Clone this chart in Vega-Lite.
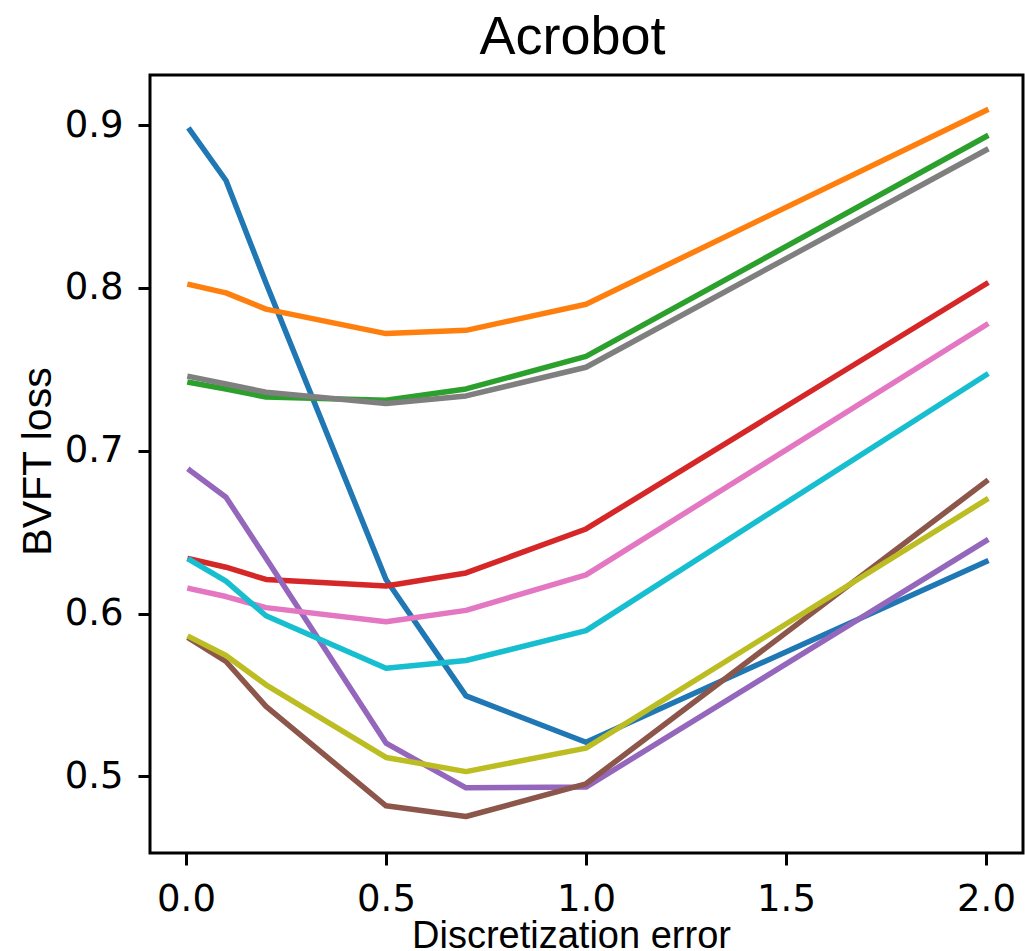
{
  "$schema": "https://vega.github.io/schema/vega-lite/v6.json",
  "width": 873,
  "height": 778,
  "autosize": "none",
  "padding": {"left": 150, "top": 75, "right": 2, "bottom": 98},
  "background": "white",
  "title": {
    "text": "Acrobot",
    "font": "Liberation Sans",
    "fontSize": 54,
    "fontWeight": "normal",
    "color": "black",
    "baseline": "alphabetic",
    "offset": 20,
    "dx": -14,
    "dy": 53
  },
  "config": {
    "view": {"stroke": "black", "strokeWidth": 3},
    "axis": {
      "domain": false,
      "grid": false,
      "tickColor": "black",
      "tickWidth": 3,
      "tickSize": 12,
      "labelFont": "DejaVu Sans",
      "labelFontSize": 37,
      "labelColor": "black",
      "titleFont": "Liberation Sans",
      "titleFontWeight": "normal",
      "titleColor": "black"
    }
  },
  "data": {
    "values": [
      {"s": "C0", "x": 0.01, "y": 0.897}, {"s": "C0", "x": 0.1, "y": 0.866}, {"s": "C0", "x": 0.2, "y": 0.803}, {"s": "C0", "x": 0.5, "y": 0.621}, {"s": "C0", "x": 0.7, "y": 0.5495}, {"s": "C0", "x": 1.0, "y": 0.521}, {"s": "C0", "x": 2.0, "y": 0.632},
      {"s": "C1", "x": 0.01, "y": 0.802}, {"s": "C1", "x": 0.1, "y": 0.797}, {"s": "C1", "x": 0.2, "y": 0.787}, {"s": "C1", "x": 0.5, "y": 0.772}, {"s": "C1", "x": 0.7, "y": 0.774}, {"s": "C1", "x": 1.0, "y": 0.790}, {"s": "C1", "x": 2.0, "y": 0.909},
      {"s": "C2", "x": 0.01, "y": 0.742}, {"s": "C2", "x": 0.1, "y": 0.738}, {"s": "C2", "x": 0.2, "y": 0.733}, {"s": "C2", "x": 0.5, "y": 0.731}, {"s": "C2", "x": 0.7, "y": 0.738}, {"s": "C2", "x": 1.0, "y": 0.758}, {"s": "C2", "x": 2.0, "y": 0.893},
      {"s": "C3", "x": 0.01, "y": 0.6336}, {"s": "C3", "x": 0.1, "y": 0.6285}, {"s": "C3", "x": 0.2, "y": 0.621}, {"s": "C3", "x": 0.5, "y": 0.617}, {"s": "C3", "x": 0.7, "y": 0.625}, {"s": "C3", "x": 1.0, "y": 0.652}, {"s": "C3", "x": 2.0, "y": 0.8025},
      {"s": "C4", "x": 0.01, "y": 0.688}, {"s": "C4", "x": 0.1, "y": 0.6715}, {"s": "C4", "x": 0.2, "y": 0.634}, {"s": "C4", "x": 0.5, "y": 0.5205}, {"s": "C4", "x": 0.7, "y": 0.493}, {"s": "C4", "x": 1.0, "y": 0.4935}, {"s": "C4", "x": 2.0, "y": 0.6447},
      {"s": "C5", "x": 0.01, "y": 0.5845}, {"s": "C5", "x": 0.1, "y": 0.5706}, {"s": "C5", "x": 0.2, "y": 0.543}, {"s": "C5", "x": 0.5, "y": 0.482}, {"s": "C5", "x": 0.7, "y": 0.4754}, {"s": "C5", "x": 1.0, "y": 0.4955}, {"s": "C5", "x": 2.0, "y": 0.6811},
      {"s": "C6", "x": 0.01, "y": 0.6154}, {"s": "C6", "x": 0.1, "y": 0.6105}, {"s": "C6", "x": 0.2, "y": 0.6037}, {"s": "C6", "x": 0.5, "y": 0.595}, {"s": "C6", "x": 0.7, "y": 0.602}, {"s": "C6", "x": 1.0, "y": 0.6238}, {"s": "C6", "x": 2.0, "y": 0.7773},
      {"s": "C7", "x": 0.01, "y": 0.7455}, {"s": "C7", "x": 0.1, "y": 0.741}, {"s": "C7", "x": 0.2, "y": 0.736}, {"s": "C7", "x": 0.5, "y": 0.729}, {"s": "C7", "x": 0.7, "y": 0.7337}, {"s": "C7", "x": 1.0, "y": 0.7513}, {"s": "C7", "x": 2.0, "y": 0.8847},
      {"s": "C8", "x": 0.01, "y": 0.5856}, {"s": "C8", "x": 0.1, "y": 0.5743}, {"s": "C8", "x": 0.2, "y": 0.5563}, {"s": "C8", "x": 0.5, "y": 0.5117}, {"s": "C8", "x": 0.7, "y": 0.503}, {"s": "C8", "x": 1.0, "y": 0.5174}, {"s": "C8", "x": 2.0, "y": 0.6699},
      {"s": "C9", "x": 0.01, "y": 0.633}, {"s": "C9", "x": 0.1, "y": 0.620}, {"s": "C9", "x": 0.2, "y": 0.5987}, {"s": "C9", "x": 0.5, "y": 0.5665}, {"s": "C9", "x": 0.7, "y": 0.5712}, {"s": "C9", "x": 1.0, "y": 0.5896}, {"s": "C9", "x": 2.0, "y": 0.7466}
    ]
  },
  "mark": {"type": "line", "strokeWidth": 5.5, "strokeJoin": "round", "strokeCap": "square", "clip": true},
  "encoding": {
    "x": {
      "field": "x",
      "type": "quantitative",
      "scale": {"domain": [-0.09, 2.0925], "nice": false, "zero": false},
      "axis": {
        "values": [0, 0.5, 1, 1.5, 2],
        "format": ".1f",
        "labelPadding": 16,
        "title": "Discretization error",
        "titleFontSize": 38,
        "titleX": 421,
        "titleY": 94,
        "titleBaseline": "alphabetic",
        "titleAlign": "center"
      }
    },
    "y": {
      "field": "y",
      "type": "quantitative",
      "scale": {"domain": [0.453, 0.9308], "nice": false, "zero": false},
      "axis": {
        "values": [0.5, 0.6, 0.7, 0.8, 0.9],
        "format": ".1f",
        "labelPadding": 15,
        "title": "BVFT loss",
        "titleFontSize": 41,
        "titleAngle": -90,
        "titleX": -100,
        "titleY": 386,
        "titleBaseline": "alphabetic",
        "titleAlign": "center"
      }
    },
    "color": {
      "field": "s",
      "type": "nominal",
      "scale": {
        "domain": ["C0", "C1", "C2", "C3", "C4", "C5", "C6", "C7", "C8", "C9"],
        "range": ["#1f77b4", "#ff7f0e", "#2ca02c", "#d62728", "#9467bd", "#8c564b", "#e377c2", "#7f7f7f", "#bcbd22", "#17becf"]
      },
      "legend": null
    }
  }
}
